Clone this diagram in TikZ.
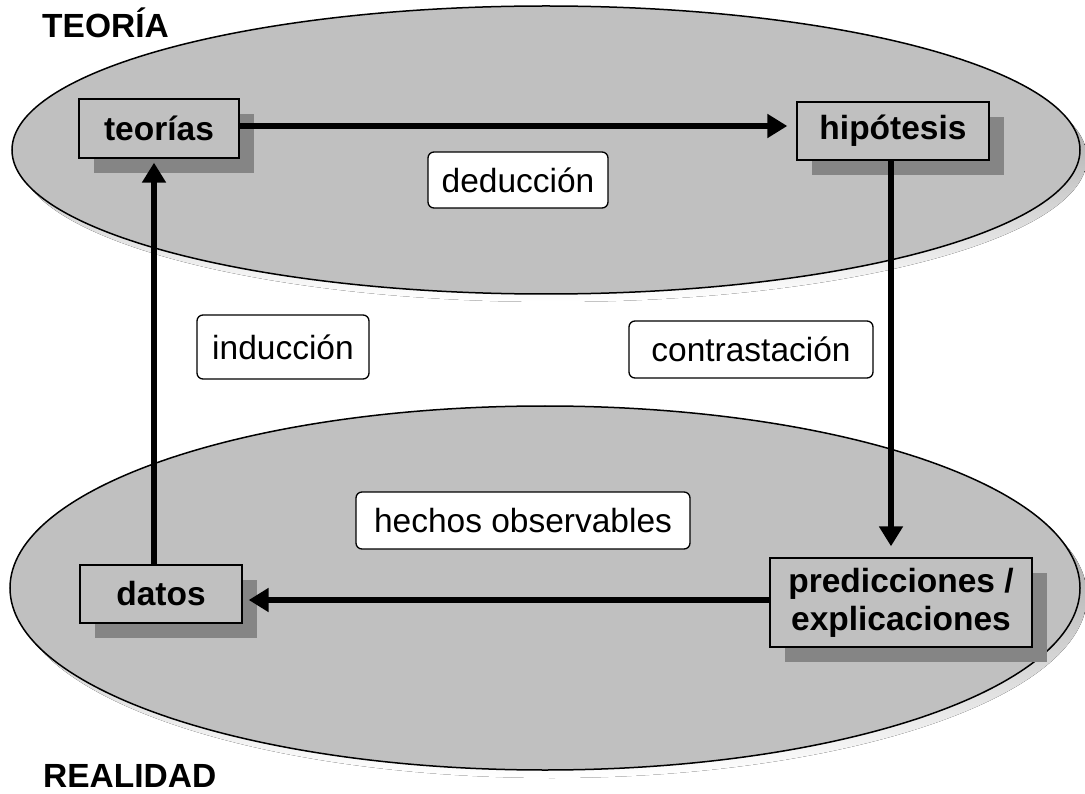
\documentclass[tikz,border=0pt]{standalone}
\usepackage{fontspec}
\setmainfont{Liberation Sans}
\usetikzlibrary{arrows.meta,shadows,calc}
\definecolor{plate}{HTML}{C0C0C0}
\definecolor{shade}{HTML}{858585}
\begin{document}
\begin{tikzpicture}[x=1pt,y=-1pt,
  conceptbox/.style={draw=black, line width=1.4pt, fill=plate, inner sep=0pt,
    align=center, font=\fontsize{33.5}{38}\selectfont\bfseries,
    drop shadow={shadow xshift=15pt, shadow yshift=-15pt, fill=shade, opacity=1}},
  tagbox/.style={draw=black, line width=1.3pt, fill=white, rounded corners=6pt,
    inner sep=0pt, font=\fontsize{33.5}{38}\selectfont},
  flow/.style={line width=5.5pt, -{Triangle[length=20pt,width=23pt]}},
  plane/.style={draw=black, line width=1.5pt, fill=plate},
  title/.style={anchor=base west, inner sep=0pt, font=\fontsize{33.5}{38}\selectfont\bfseries},
]
\useasboundingbox (0,0) rectangle (1085,794);

% the two planes with their shadows
\fill[shade] (553,158) ellipse [x radius=534, y radius=144];
\draw[plane] (546,150) ellipse [x radius=534, y radius=144];
\fill[shade] (552,596) ellipse [x radius=535, y radius=182];
\draw[plane] (545,588) ellipse [x radius=535, y radius=182];

% plane titles
\node[title] (teoria) at (42,38) {TEORÍA};
\node[title] (realidad) at (43,787) {REALIDAD};

% concept boxes
\node[conceptbox, minimum width=160pt, minimum height=59pt] (teorias) at (159,128.5) {teorías};
\node[conceptbox, minimum width=192pt, minimum height=58pt] (hipotesis) at (893,131) {hipótesis};
\node[conceptbox, minimum width=162pt, minimum height=58pt] (datos) at (161,594) {datos};
\node[conceptbox, minimum width=262pt, minimum height=89pt] (pred) at (901,602.5) {predicciones /\\explicaciones};

% process labels
\node[tagbox, minimum width=180pt, minimum height=56pt] (deduccion) at (518,180) {deducción};
\node[tagbox, minimum width=172pt, minimum height=64pt] (induccion) at (283,347) {inducción};
\node[tagbox, minimum width=244pt, minimum height=57pt] (contraste) at (751,349.5) {contrastación};
\node[tagbox, minimum width=334pt, minimum height=57pt] (hechos) at (523,520.5) {hechos observables};

% cycle of arrows
\draw[flow, shorten >=9pt] (teorias.east |- 0,126) -- (hipotesis.west |- 0,126);
\draw[flow, shorten >=11pt] (hipotesis.south -| 891,0) -- (pred.north -| 891,0);
\draw[flow, shorten >=6pt] (pred.west |- 0,600) -- (datos.east |- 0,600);
\draw[flow, shorten >=4pt] (datos.north -| 154,0) -- (teorias.south -| 154,0);
\end{tikzpicture}
\end{document}
